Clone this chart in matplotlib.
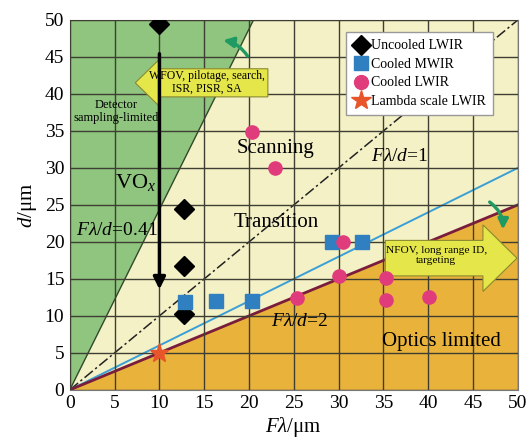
import matplotlib
matplotlib.use("Agg")
import matplotlib.pyplot as plt
from matplotlib.patches import Polygon, FancyArrow
import numpy as np

plt.rcParams["font.family"] = ["Liberation Serif", "DejaVu Serif"]
plt.rcParams["mathtext.fontset"] = "custom"
plt.rcParams["mathtext.rm"] = "Liberation Serif"
plt.rcParams["mathtext.it"] = "Liberation Serif:italic"

# detector data points (F*lambda, d) in um
uncooled_x = [10.0, 12.7, 12.7, 12.7]
uncooled_y = [49.5, 24.4, 16.8, 10.2]
mwir_x = [12.8, 16.3, 20.3, 29.3, 32.6]
mwir_y = [11.9, 12.0, 12.0, 20.0, 20.0]
lwir_x = [20.3, 22.9, 30.5, 30.0, 25.4, 35.3, 35.3, 40.1]
lwir_y = [34.9, 30.0, 20.0, 15.4, 12.4, 15.1, 12.2, 12.6]
lambda_x = [10.0]
lambda_y = [5.0]

# F*lambda/d boundaries
ratio_sampling = 0.41
ratio_unity = 1.0
ratio_blue = 1 / 0.6
ratio_optics = 2.0
xmax, ymax = 50, 50

fig = plt.figure(figsize=(5.29, 4.43), dpi=100)
ax = fig.add_axes([0.132, 0.12, 0.847, 0.835])
ax.set_xlim(0, xmax)
ax.set_ylim(0, ymax)

# background regions
ax.set_facecolor("#f4f1c6")
x_top = ymax * ratio_sampling
ax.add_patch(Polygon([(0, 0), (x_top, ymax), (0, ymax)], closed=True,
                     facecolor="#8fc57f", edgecolor="none", zorder=0))
ax.add_patch(Polygon([(0, 0), (xmax, 0), (xmax, xmax / ratio_optics)], closed=True,
                     facecolor="#e9b23a", edgecolor="none", zorder=0))

ax.set_xticks(np.arange(0, 51, 5))
ax.set_yticks(np.arange(0, 51, 5))
ax.grid(True, color="#3e3e32", linewidth=1.0, zorder=1)
ax.set_axisbelow(False)
ax.tick_params(length=0, labelsize=14, pad=4)
for s in ax.spines.values():
    s.set_color("#777777")
    s.set_linewidth(0.8)

# boundary lines
xs = np.array([0, xmax])
ax.plot([0, x_top], [0, ymax], color="#2f4a2a", linewidth=1.0, zorder=2)
ax.plot(xs, xs / ratio_unity, color="#222222", linewidth=1.1,
        linestyle=(0, (7, 2, 1.5, 2)), zorder=2)
ax.plot(xs, xs / ratio_blue, color="#3a9fd6", linewidth=1.4, zorder=2)
ax.plot(xs, xs / ratio_optics, color="#7a1d3c", linewidth=2.0, zorder=2)

# use-case arrows
ax.add_patch(FancyArrow(22.1, 41.5, -12.0, 0, width=3.8, head_width=6.6,
                        head_length=2.8, length_includes_head=False,
                        facecolor="#e5e64a", edgecolor="#8a8a30", linewidth=0.8, zorder=4))
ax.text(15.3, 41.6, "WFOV, pilotage, search,\nISR, PISR, SA", ha="center", va="center",
        fontsize=8.5, linespacing=1.1, zorder=5)
ax.add_patch(FancyArrow(35.2, 17.8, 10.9, 0, width=4.8, head_width=9.0,
                        head_length=3.8, length_includes_head=False,
                        facecolor="#e5e64a", edgecolor="#8a8a30", linewidth=0.8, zorder=4))
ax.text(40.9, 18.2, "NFOV, long range ID,\ntargeting", ha="center", va="center",
        fontsize=8.2, linespacing=1.1, zorder=5)

# green hint arrows
ax.annotate("", xy=(16.8, 47.3), xytext=(20.0, 44.8),
            arrowprops=dict(arrowstyle="-|>", color="#1e9a62", lw=2.4,
                            mutation_scale=15, connectionstyle="arc3,rad=0.25"), zorder=5)
ax.annotate("", xy=(48.3, 21.3), xytext=(46.6, 25.6),
            arrowprops=dict(arrowstyle="-|>", color="#1e9a62", lw=2.4,
                            mutation_scale=15, connectionstyle="arc3,rad=-0.3"), zorder=5)

# VOx vertical arrow
ax.annotate("", xy=(10, 13.2), xytext=(10, 45.8),
            arrowprops=dict(arrowstyle="-|>", color="black", lw=2.5,
                            mutation_scale=18), zorder=5)

# data points
ax.plot(uncooled_x, uncooled_y, linestyle="none", marker="D", markersize=10,
        color="black", label="Uncooled LWIR", zorder=6)
ax.plot(mwir_x, mwir_y, linestyle="none", marker="s", markersize=9.5,
        color="#2f7fc1", label="Cooled MWIR", zorder=6)
ax.plot(lwir_x, lwir_y, linestyle="none", marker="o", markersize=9.5,
        color="#e03c7c", label="Cooled LWIR", zorder=6)
ax.plot(lambda_x, lambda_y, linestyle="none", marker="*", markersize=14,
        color="#e8552a", label="Lambda scale LWIR", zorder=6)

# region annotations
ax.text(5.2, 37.6, "Detector\nsampling-limited", ha="center", va="center",
        fontsize=9, linespacing=1.1, zorder=5)
ax.text(7.3, 28.0, "VO$_x$", ha="center", va="center", fontsize=16, zorder=5)
ax.text(5.3, 21.6, "$F\\lambda/d$=0.41", ha="center", va="center", fontsize=14, zorder=5)
ax.text(23.0, 32.6, "Scanning", ha="center", va="center", fontsize=15, zorder=5)
ax.text(23.0, 22.6, "Transition", ha="center", va="center", fontsize=15, zorder=5)
ax.text(36.8, 31.5, "$F\\lambda/d$=1", ha="center", va="center", fontsize=14, zorder=5)
ax.text(25.7, 9.3, "$F\\lambda/d$=2", ha="center", va="center", fontsize=14, zorder=5)
ax.text(41.5, 6.6, "Optics limited", ha="center", va="center", fontsize=15, zorder=5)

ax.set_xlabel("$F\\lambda$/μm", fontsize=15, labelpad=2)
ax.set_ylabel("$d$/μm", fontsize=15, labelpad=4)

leg = ax.legend(loc="upper right", bbox_to_anchor=(0.96, 0.985), fontsize=10,
                frameon=True, fancybox=False, handletextpad=0.1, handlelength=1.2,
                borderpad=0.5, labelspacing=0.4, markerscale=1.05)
leg.get_frame().set_edgecolor("#999999")
leg.get_frame().set_facecolor("white")
leg.get_frame().set_alpha(1)
leg.set_zorder(7)

fig.savefig("out.png", dpi=100)
